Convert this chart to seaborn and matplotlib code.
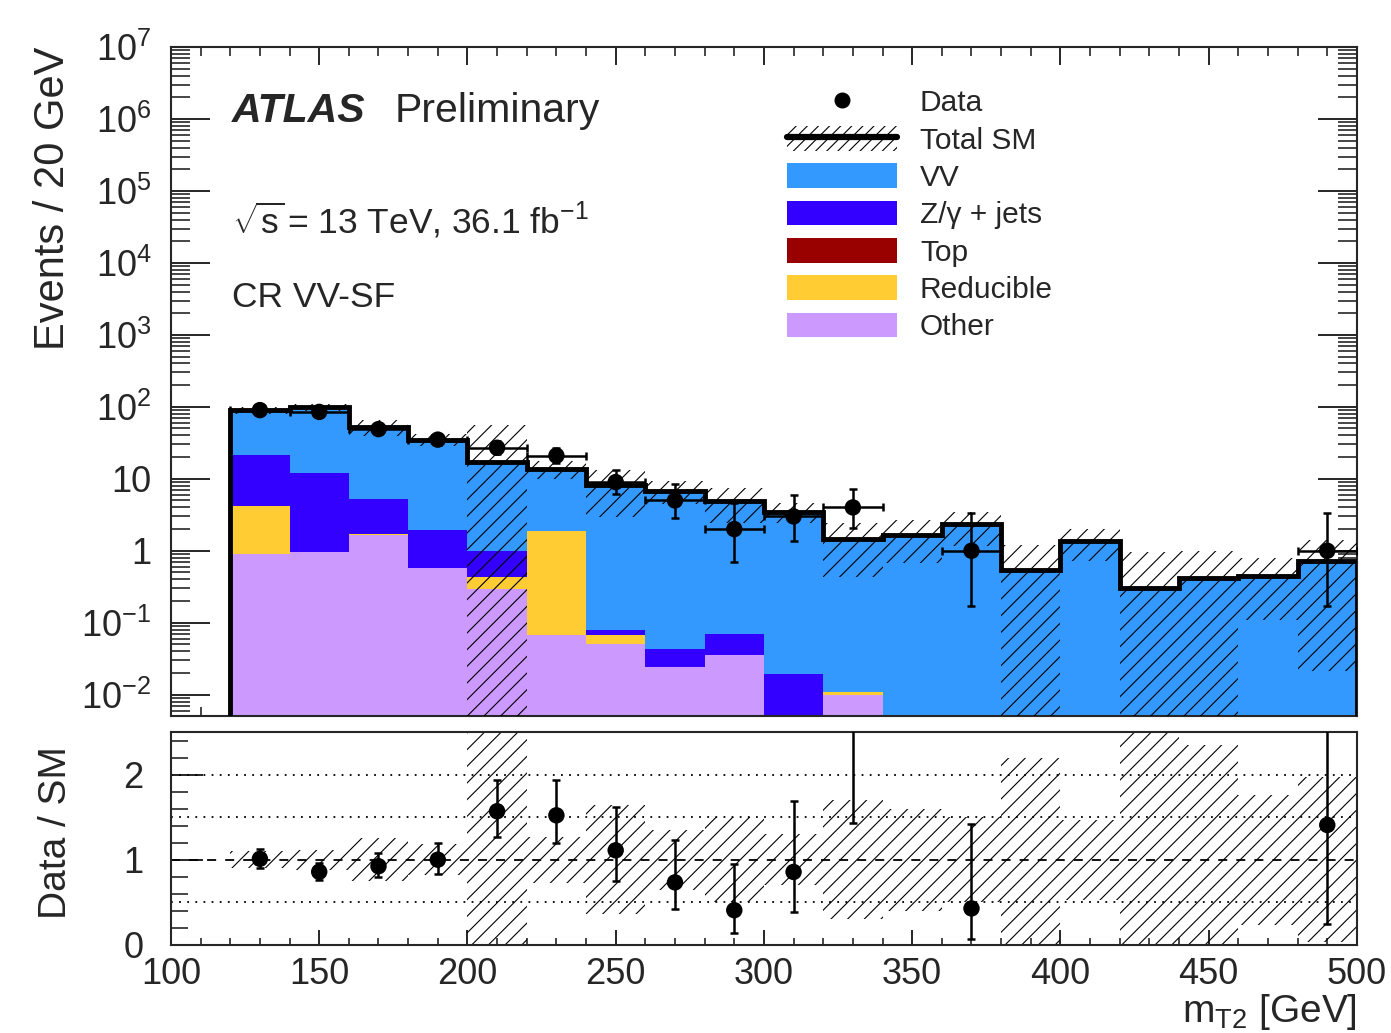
import math
import numpy as np
import pandas as pd
import matplotlib
matplotlib.use("Agg")
import matplotlib.pyplot as plt
import seaborn as sns
from matplotlib.lines import Line2D
from matplotlib.patches import Patch
from matplotlib.ticker import (FixedLocator, FixedFormatter, LogLocator,
                               MultipleLocator, NullFormatter)

# ---------------------------------------------------------------- data
bin_edges = np.arange(120, 501, 20)          # m_T2 bins [GeV]
bin_centers = 0.5 * (bin_edges[:-1] + bin_edges[1:])

vv = [67.5, 86.8, 47.8, 33.0, 16.2, 11.9, 8.02, 6.76, 4.83, 3.48,
      1.44, 1.67, 2.33, 0.545, 1.35, 0.30, 0.42, 0.45, 0.71]
zjets = [17.3, 11.2, 3.5, 1.39, 0.57, 0.0, 0.012, 0.019, 0.034, 0.0196,
         0.0, 0.0, 0.0, 0.0, 0.0, 0.0, 0.0, 0.0, 0.0]
top = [0.0] * 19
reducible = [3.3, 0.012, 0.02, 0.0, 0.14, 1.83, 0.017, 0.0, 0.0, 0.0,
             0.0008, 0.0, 0.0, 0.0, 0.0, 0.0, 0.0, 0.0, 0.0]
other = [0.89, 0.95, 1.67, 0.57, 0.29, 0.068, 0.051, 0.0242, 0.036, 0.0,
         0.010, 0.0, 0.0, 0.0, 0.0, 0.0, 0.0, 0.0, 0.0]
data_counts = [90, 85, 49, 35, 27, 21, 9, 5, 2, 3, 4, 0, 1, 0, 0, 0, 0, 0, 1]
sm_rel_unc = [0.10, 0.12, 0.25, 0.18, 2.25, 0.27, 0.64, 0.35, 0.50, 0.30,
              0.70, 0.60, 0.50, 1.20, 0.47, 2.20, 1.35, 0.76, 0.97]

process_names = ["VV", "Z/\u03b3 + jets", "Top", "Reducible", "Other"]
process_colors = ["#3399ff", "#3300ff", "#990000", "#ffcc33", "#cc99ff"]

log_tick_values = [1e-2, 1e-1, 1, 10, 1e2, 1e3, 1e4, 1e5, 1e6, 1e7]
log_tick_labels = [r"$10^{-2}$", r"$10^{-1}$", "1", "10", r"$10^{2}$",
                   r"$10^{3}$", r"$10^{4}$", r"$10^{5}$", r"$10^{6}$",
                   r"$10^{7}$"]
ratio_tick_values = [0, 1, 2]
ratio_tick_labels = ["0", "1", "2"]


# ---------------------------------------------------------------- helpers
def poisson_interval(n, cl=0.682689):
    """Garwood (frequentist) central interval for a Poisson count."""
    a = 0.5 * (1.0 - cl)

    def cdf(k, mu):
        return sum(math.exp(-mu + i * math.log(mu) - math.lgamma(i + 1))
                   for i in range(k + 1))

    if n == 0:
        lo = 0.0
    else:
        l, h = 1e-9, float(n)
        for _ in range(200):
            m = 0.5 * (l + h)
            if 1.0 - cdf(n - 1, m) < a:
                l = m
            else:
                h = m
        lo = 0.5 * (l + h)
    l, h = float(n) + 1e-9, n + 10 * math.sqrt(n + 1) + 10
    for _ in range(200):
        m = 0.5 * (l + h)
        if cdf(n, m) > a:
            l = m
        else:
            h = m
    hi = 0.5 * (l + h)
    return lo, hi


# ---------------------------------------------------------------- style
sns.set_style("ticks")
plt.rcParams["font.family"] = ["Liberation Sans", "DejaVu Sans"]
plt.rcParams["mathtext.fontset"] = "custom"
plt.rcParams["mathtext.rm"] = "Liberation Sans"
plt.rcParams["mathtext.it"] = "Liberation Sans:italic"
plt.rcParams["mathtext.bf"] = "Liberation Sans:bold"
plt.rcParams["hatch.linewidth"] = 0.8
plt.rcParams["axes.linewidth"] = 1.5

components = [vv, zjets, top, reducible, other]
total = np.sum(np.array(components), axis=0)
data_arr = np.array(data_counts, dtype=float)
rel = np.array(sm_rel_unc)

stack_df = pd.DataFrame({
    "mt2": np.tile(bin_centers, len(process_names)),
    "events": np.concatenate([np.asarray(c, dtype=float) for c in components]),
    "process": np.repeat(process_names, len(bin_centers)),
})

fig = plt.figure(figsize=(13.91, 10.33), dpi=100)
ax = fig.add_axes([0.1229, 0.3069, 0.8526, 0.6476])
rax = fig.add_axes([0.1229, 0.0852, 0.8526, 0.2062])

# ---------------------------------------------------------------- main panel
sns.histplot(data=stack_df, x="mt2", weights="events", hue="process",
             hue_order=process_names,
             palette=dict(zip(process_names, process_colors)),
             bins=[float(e) for e in bin_edges], multiple="stack",
             element="step", fill=True,
             alpha=1.0, linewidth=0, legend=False, ax=ax, zorder=1)
ax.set_yscale("log")

# total SM uncertainty band
unc_lo = np.maximum(total * (1 - rel), 1e-5)
unc_hi = total * (1 + rel)
ax.bar(bin_centers, unc_hi - unc_lo, bottom=unc_lo, width=20,
       facecolor="none", edgecolor="black", hatch="//", linewidth=0,
       zorder=3)

# total SM line
ax.stairs(total, bin_edges, baseline=1e-5, color="black", linewidth=3.5,
          zorder=4)

# data
has_data = data_arr > 0
intervals = [poisson_interval(int(n)) for n in data_counts]
err_lo = np.array([n - iv[0] for n, iv in zip(data_arr, intervals)])
err_hi = np.array([iv[1] - n for n, iv in zip(data_arr, intervals)])
ax.errorbar(bin_centers[has_data], data_arr[has_data], xerr=10,
            yerr=[err_lo[has_data], err_hi[has_data]], fmt="none",
            ecolor="black", elinewidth=1.8, capsize=3, capthick=1.8,
            zorder=5)
sns.scatterplot(x=bin_centers[has_data], y=data_arr[has_data], color="black",
                s=140, edgecolor="none", ax=ax, zorder=6, legend=False)

ax.set_xlim(100, 500)
ax.set_ylim(0.00506, 1e7)
ax.yaxis.set_major_locator(FixedLocator(log_tick_values))
ax.yaxis.set_major_formatter(FixedFormatter(log_tick_labels))
ax.yaxis.set_minor_locator(LogLocator(base=10, subs=np.arange(2, 10),
                                      numticks=30))
ax.yaxis.set_minor_formatter(NullFormatter())
ax.xaxis.set_major_locator(MultipleLocator(50))
ax.xaxis.set_minor_locator(MultipleLocator(10))
ax.tick_params(axis="y", which="major", direction="in", length=28, width=1.4,
               left=True, right=True, labelsize=26, pad=14)
ax.tick_params(axis="y", which="minor", direction="in", length=14, width=1.2,
               left=True, right=True)
ax.tick_params(axis="x", which="major", direction="in", length=13, width=1.4,
               top=True, bottom=True, labelbottom=False)
ax.tick_params(axis="x", which="minor", direction="in", length=6.5,
               width=1.2, top=True, bottom=True)
ax.set_xlabel("")
ax.set_ylabel("Events / 20 GeV", fontsize=30, loc="top")
ax.yaxis.set_label_coords(-0.083, 1.0)

# labels
fig.text(0.1668, 0.8819, "ATLAS", fontsize=29.5, fontweight="bold",
         fontstyle="italic")
fig.text(0.284, 0.8819, "Preliminary", fontsize=29.5)
fig.text(0.1668, 0.7744,
         r"$\sqrt{\mathrm{s}}\,$= 13 TeV, 36.1 fb$^{\mathrm{-1}}$",
         fontsize=25.5)
fig.text(0.1668, 0.7028, "CR VV-SF", fontsize=25.5)

# legend
handles = [
    Line2D([], [], marker="o", color="black", linestyle="none",
           markersize=10.5),
    (Patch(facecolor="none", edgecolor="black", hatch="///", linewidth=0),
     Line2D([], [], color="black", linewidth=4.5)),
] + [Patch(facecolor=c, edgecolor="none", linewidth=0) for c in process_colors]
labels = ["Data", "Total SM"] + process_names
ax.legend(handles, labels, loc="upper left",
          bbox_to_anchor=(787 / 1391, 1 - 88.5 / 1033),
          bbox_transform=fig.transFigure, frameon=False, fontsize=21.5,
          handlelength=3.68, handleheight=0.9, handletextpad=0.77,
          labelspacing=0.29, borderpad=0, borderaxespad=0)

# ---------------------------------------------------------------- ratio panel
ratio_lo = np.maximum(1 - rel, 0.0)
ratio_hi = np.minimum(1 + rel, 3.0)
rax.bar(bin_centers, ratio_hi - ratio_lo, bottom=ratio_lo, width=20,
        facecolor="none", edgecolor="black", hatch="//", linewidth=0,
        zorder=2)
for lvl in (0.5, 1.5, 2.0):
    rax.axhline(lvl, color="black", linestyle=(0, (1, 3.5)), linewidth=1.3,
                zorder=1)
rax.axhline(1.0, color="black", linestyle=(0, (5, 5)), linewidth=1.3,
            zorder=1)

ratio = data_arr / total
rax.errorbar(bin_centers[has_data], ratio[has_data],
             yerr=[err_lo[has_data] / total[has_data],
                   err_hi[has_data] / total[has_data]],
             fmt="none", ecolor="black", elinewidth=1.8, capsize=3,
             capthick=1.8, zorder=5)
sns.scatterplot(x=bin_centers[has_data], y=ratio[has_data], color="black",
                s=140, edgecolor="none", ax=rax, zorder=6, legend=False)

rax.set_xlim(100, 500)
rax.set_ylim(0, 2.5)
rax.yaxis.set_major_locator(FixedLocator(ratio_tick_values))
rax.yaxis.set_major_formatter(FixedFormatter(ratio_tick_labels))
rax.yaxis.set_minor_locator(MultipleLocator(0.2))
rax.xaxis.set_major_locator(MultipleLocator(50))
rax.xaxis.set_minor_locator(MultipleLocator(10))
rax.tick_params(axis="y", which="major", direction="in", length=23,
                width=1.4, left=True, right=False, labelsize=26, pad=20)
rax.tick_params(axis="y", which="minor", direction="in", length=12,
                width=1.2, left=True, right=False)
rax.tick_params(axis="x", which="major", direction="in", length=10.5,
                width=1.4, top=False, bottom=True, labelsize=26, pad=9)
rax.tick_params(axis="x", which="minor", direction="in", length=5,
                width=1.2, top=False, bottom=True)
rax.set_xlabel(r"m$_{\mathrm{T2}}$ [GeV]", fontsize=28, loc="right",
               labelpad=0)
rax.set_ylabel("Data / SM", fontsize=28)
rax.yaxis.set_label_coords(-0.082, 0.53)

fig.savefig("out.png", dpi=100)
